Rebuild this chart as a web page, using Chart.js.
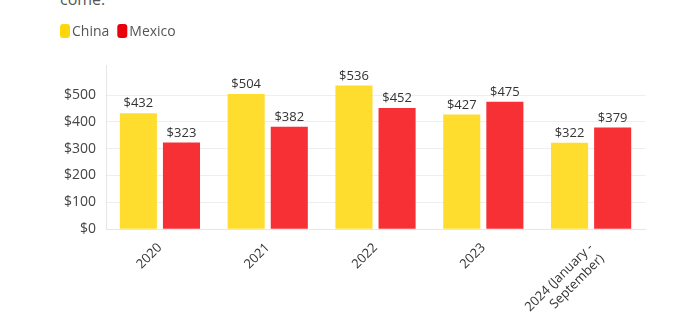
<!DOCTYPE html>
<html lang="en">
<head>
    <meta charset="UTF-8">
    <title>China vs Mexico</title>
    <script src="https://cdn.jsdelivr.net/npm/chart.js"></script>
    <style>
        body { margin: 0; background: #fff; font-family: "Open Sans", sans-serif; overflow: hidden; }
        #note { position: absolute; left: 60px; top: -12px; font-size: 16px; color: #555; }
        #wrap { position: absolute; left: 0; top: 0; width: 692px; height: 336px; }
    </style>
</head>
<body>
    <div id="note">come.</div>
    <div id="wrap"><canvas id="chart"></canvas></div>

    <script>
        const years = ["2020", "2021", "2022", "2023", ["2024 (January -", "September)"]];
        const china = [432, 504, 536, 427, 322];
        const mexico = [323, 382, 452, 475, 379];
        const yTicks = [0, 100, 200, 300, 400, 500];

        // draw "$value" above each bar
        const valueLabels = {
            id: "valueLabels",
            afterDatasetsDraw(chart) {
                const ctx = chart.ctx;
                ctx.save();
                ctx.font = "13px 'Open Sans', sans-serif";
                ctx.fillStyle = "#333";
                ctx.textAlign = "center";
                ctx.textBaseline = "bottom";
                chart.data.datasets.forEach((ds, i) => {
                    chart.getDatasetMeta(i).data.forEach((bar, j) => {
                        ctx.fillText("$" + ds.data[j], bar.x, bar.y - 3);
                    });
                });
                ctx.restore();
            }
        };

        // small legend at top left, box close to text
        const topLegend = {
            id: "topLegend",
            afterDraw(chart) {
                const ctx = chart.ctx;
                ctx.save();
                ctx.font = "14px 'Open Sans', sans-serif";
                ctx.textBaseline = "middle";
                let x = 60;
                const y = 31;
                chart.data.datasets.forEach(ds => {
                    ctx.fillStyle = ds.legendColor;
                    ctx.beginPath();
                    ctx.roundRect(x, y - 7, 10, 14, 3);
                    ctx.fill();
                    ctx.fillStyle = "#555";
                    ctx.fillText(ds.label, x + 12, y + 1);
                    x += 12 + ctx.measureText(ds.label).width + 8;
                });
                ctx.restore();
            }
        };

        new Chart(document.getElementById("chart"), {
            type: "bar",
            data: {
                labels: years,
                datasets: [
                    { label: "China", data: china, backgroundColor: "#fedd2f", legendColor: "#ffd60a" },
                    { label: "Mexico", data: mexico, backgroundColor: "#f73035", legendColor: "#e8000b" }
                ]
            },
            options: {
                responsive: true,
                maintainAspectRatio: false,
                animation: false,
                categoryPercentage: 0.8,
                barPercentage: 0.86,
                layout: { padding: { left: 54, right: 47, top: 65, bottom: 7 } },
                plugins: {
                    tooltip: { enabled: false },
                    legend: { display: false }
                },
                scales: {
                    x: {
                        grid: { display: false },
                        border: { color: "#e6e6e6" },
                        ticks: {
                            maxRotation: 45,
                            minRotation: 45,
                            color: "#333",
                            font: { family: "'Open Sans', sans-serif", size: 13 }
                        }
                    },
                    y: {
                        min: 0,
                        max: 612,
                        afterBuildTicks(scale) {
                            scale.ticks = yTicks.map(v => ({ value: v }));
                        },
                        grid: { color: "#eeeeee", drawTicks: false },
                        border: { color: "#e6e6e6" },
                        ticks: {
                            padding: 10,
                            color: "#444",
                            font: { family: "'Open Sans', sans-serif", size: 14 },
                            callback: v => "$" + v
                        }
                    }
                }
            },
            plugins: [valueLabels, topLegend]
        });
    </script>
</body>
</html>
